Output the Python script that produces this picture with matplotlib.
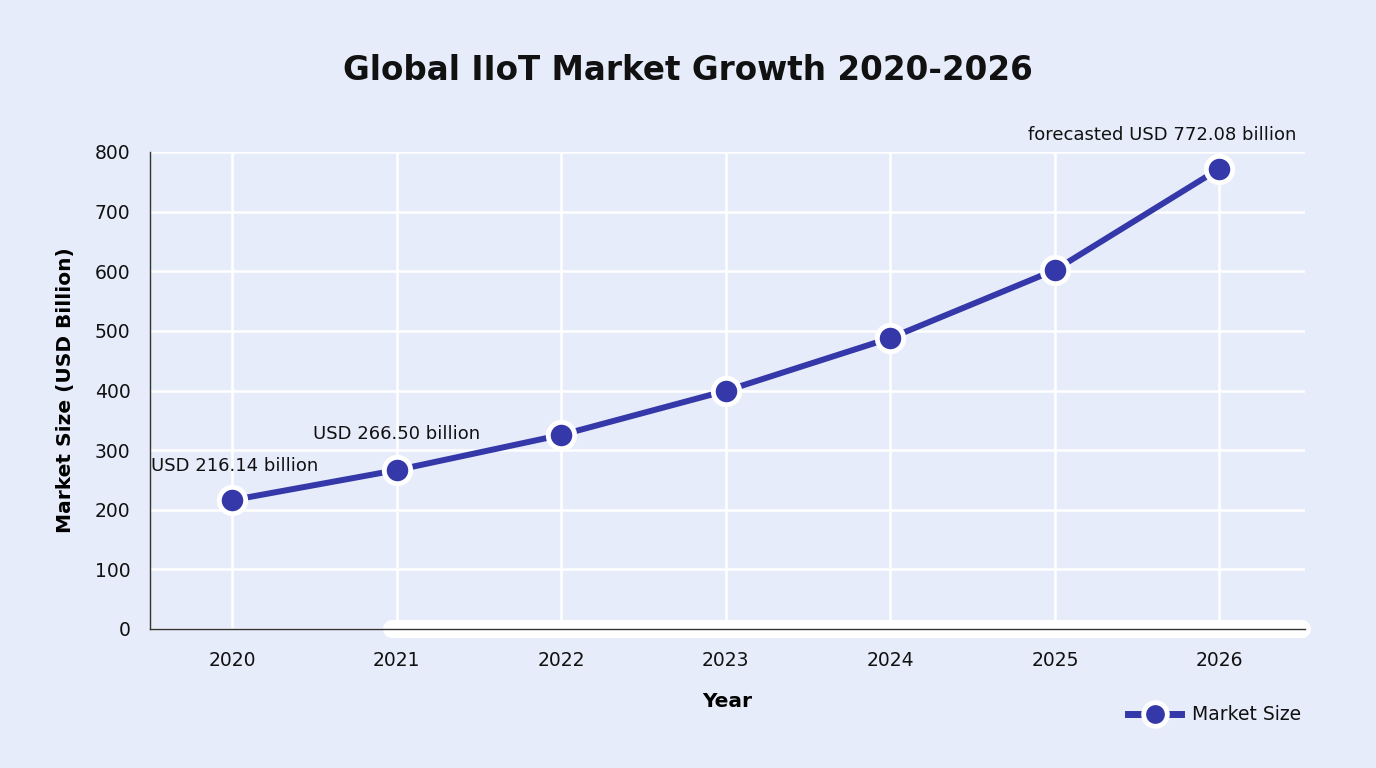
import matplotlib
matplotlib.use("Agg")
import matplotlib.pyplot as plt
from matplotlib.lines import Line2D

years = [2020, 2021, 2022, 2023, 2024, 2025, 2026]
market_size = [216.14, 266.50, 325.5, 399.5, 488.0, 602.0, 772.08]
yticks = [0, 100, 200, 300, 400, 500, 600, 700, 800]
annotations = [(2020, 216.14, "USD 216.14 billion"),
               (2021, 266.50, "USD 266.50 billion"),
               (2026, 772.08, "forecasted USD 772.08 billion")]

plt.rcParams['font.family'] = ['DejaVu Sans']
bg = "#E7ECFA"
line_c = "#3438A9"

fig = plt.figure(figsize=(13.76, 7.68), dpi=100, facecolor=bg)
ax = fig.add_axes([150/1376, 1-629/768, (1305-150)/1376, (629-152)/768])
ax.set_facecolor(bg)

ax.plot(years, market_size, color=line_c, lw=4.3, marker='o', markersize=19,
        markerfacecolor=line_c, markeredgecolor='white', markeredgewidth=3.5,
        zorder=5, solid_capstyle='round', label='Market Size')

ax.set_xlim(2019.5, 2026.52)
ax.set_ylim(0, 800)
ax.set_xticks(years)
ax.set_yticks(yticks)
ax.tick_params(axis='both', length=0, labelsize=13.5, colors='#111111')
ax.tick_params(axis='x', pad=16)
ax.tick_params(axis='y', pad=14)
ax.grid(True, color='white', lw=1.8, zorder=0)
ax.set_axisbelow(True)
for s in ['top', 'right']:
    ax.spines[s].set_visible(False)
ax.spines['left'].set_color('#333333')
ax.spines['left'].set_linewidth(1.0)
ax.spines['bottom'].set_color('#333333')
ax.spines['bottom'].set_linewidth(1.0)
ax.spines['bottom'].set_zorder(3)

# white rounded band behind the bottom axis
ax.plot([2020.97, 2026.5], [0, 0], color='white', lw=13, solid_capstyle='round',
        transform=ax.transData, clip_on=False, zorder=2)

ax.set_xlabel('Year', fontsize=14.5, fontweight='bold', labelpad=16)
ax.set_ylabel('Market Size (USD Billion)', fontsize=14.5, fontweight='bold', labelpad=14)

fig.text(0.5, 1-70/768, 'Global IIoT Market Growth 2020-2026', ha='center', va='center',
         fontsize=23.5, fontweight='bold', color='#111111')

offsets = {2020: (2, 34), 2021: (0, 36), 2026: (-57, 34)}
for x, y, t in annotations:
    dx, dy = offsets[x]
    ax.annotate(t, (x, y), xytext=(dx*0.72, dy*0.72), textcoords='offset points',
                ha='center', va='center', fontsize=13, color='#111111', zorder=6)

handle = Line2D([0], [0], color=line_c, lw=5, marker='o', markersize=17,
                markerfacecolor=line_c, markeredgecolor='white', markeredgewidth=3.5)
leg = fig.legend([handle], ['Market Size'], loc='center right',
                 bbox_to_anchor=(1318/1376, 1-715/768), frameon=False,
                 fontsize=13.5, handlelength=2.8, handletextpad=0.6)
for t in leg.get_texts():
    t.set_color('#111111')

fig.savefig('out.png', dpi=100, facecolor=bg)
